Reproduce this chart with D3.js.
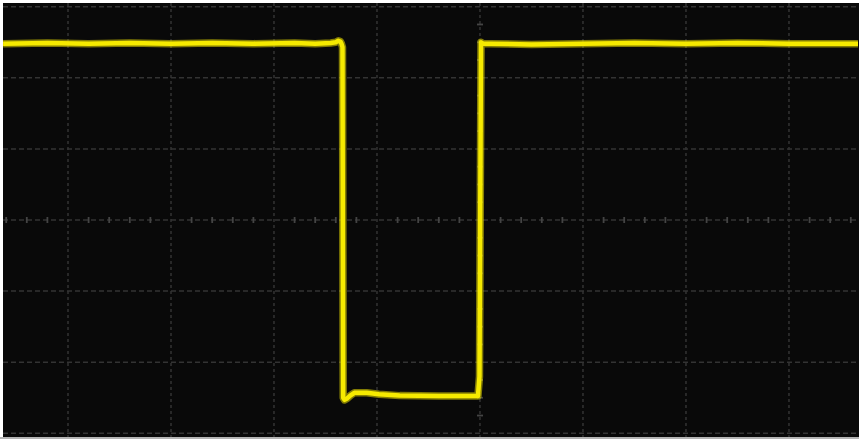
<!DOCTYPE html>
<html><head><meta charset="utf-8">
<script src="https://cdn.jsdelivr.net/npm/d3@7"></script>
<style>html,body{margin:0;padding:0;background:#fff;}svg{display:block}</style>
</head><body>
<svg id="c" width="859" height="441"></svg>
<script>
// grid divisions (major) and sub-divisions on centre axes
const xGridTicks = [-4, -3, -2, -1, 0, 1, 2, 3];
const yGridTicks = [-3, -2, -1, 0, 1, 2, 3];
const xMinorPerDiv = 5;
const yMinorPerDiv = 4;

// trace samples: time (divisions) and level (divisions)
const timeDiv = [-4.63, -4.2, -3.8, -3.4, -3.0, -2.6, -2.2, -1.8, -1.6, -1.45, -1.40, -1.375, -1.355, -1.345, -1.335,
                 -1.328, -1.315, -1.29, -1.26, -1.22, -1.10, -0.98, -0.78, -0.40, -0.02,
                 -0.005, 0.01, 0.03, 0.1, 0.5, 1.0, 1.5, 2.0, 2.5, 3.0, 3.67];
const traceDiv = [2.48, 2.49, 2.48, 2.49, 2.48, 2.49, 2.48, 2.49, 2.48, 2.49, 2.50, 2.52, 2.51, 2.48, 2.43,
                  -2.50, -2.53, -2.51, -2.47, -2.43, -2.43, -2.45, -2.47, -2.475, -2.475,
                  -2.2, 2.50, 2.48, 2.48, 2.47, 2.48, 2.49, 2.48, 2.49, 2.48, 2.48];

const svg = d3.select('#c');
const x = d3.scaleLinear().domain([-4.631, 3.67]).range([3, 858]);
const y = d3.scaleLinear().domain([-3.052, 3.052]).range([437, 3]);

// screen background
svg.append('rect').attr('x', 3).attr('y', 3).attr('width', 856).attr('height', 434).attr('fill', '#090909');
svg.append('rect').attr('x', 0).attr('y', 437).attr('width', 859).attr('height', 2).attr('fill', '#b4b4b4');

const gridCol = '#333333';
const g = svg.append('g');
// vertical grid
g.selectAll('line.vx').data(xGridTicks).join('line')
  .attr('x1', d => x(d)).attr('x2', d => x(d)).attr('y1', 3).attr('y2', 437)
  .attr('stroke', gridCol).attr('stroke-width', 1.5).attr('stroke-dasharray', '3,3');
// horizontal grid
g.selectAll('line.hy').data(yGridTicks).join('line')
  .attr('y1', d => y(d)).attr('y2', d => y(d)).attr('x1', 3).attr('x2', 859)
  .attr('stroke', gridCol).attr('stroke-width', 1.5).attr('stroke-dasharray', '5,3');

// minor ticks on centre axes
const xMinor = d3.range(Math.ceil(x.domain()[0] * xMinorPerDiv), Math.floor(x.domain()[1] * xMinorPerDiv) + 1)
  .map(k => k / xMinorPerDiv).filter(v => Math.abs(v - Math.round(v)) > 1e-6);
const yMinor = d3.range(Math.ceil(y.domain()[0] * yMinorPerDiv), Math.floor(y.domain()[1] * yMinorPerDiv) + 1)
  .map(k => k / yMinorPerDiv).filter(v => Math.abs(v - Math.round(v)) > 1e-6);
g.selectAll('line.mx').data(xMinor).join('line')
  .attr('x1', d => x(d)).attr('x2', d => x(d)).attr('y1', y(0) - 3).attr('y2', y(0) + 3)
  .attr('stroke', '#444444').attr('stroke-width', 1.8);
g.selectAll('line.my').data(yMinor).join('line')
  .attr('y1', d => y(d)).attr('y2', d => y(d)).attr('x1', x(0) - 3).attr('x2', x(0) + 3)
  .attr('stroke', '#444444').attr('stroke-width', 1.8);

// trace
const pts = timeDiv.map((t, i) => [t, traceDiv[i]]);
const line = d3.line().x(d => x(d[0])).y(d => y(d[1]));
svg.append('path').attr('d', line(pts)).attr('fill', 'none')
  .attr('stroke', '#e8da00').attr('stroke-opacity', 0.55).attr('stroke-width', 7.5).attr('stroke-linejoin', 'round');
svg.append('path').attr('d', line(pts)).attr('fill', 'none')
  .attr('stroke', '#f6ea00').attr('stroke-width', 4.5).attr('stroke-linejoin', 'round');
</script>
</body></html>
